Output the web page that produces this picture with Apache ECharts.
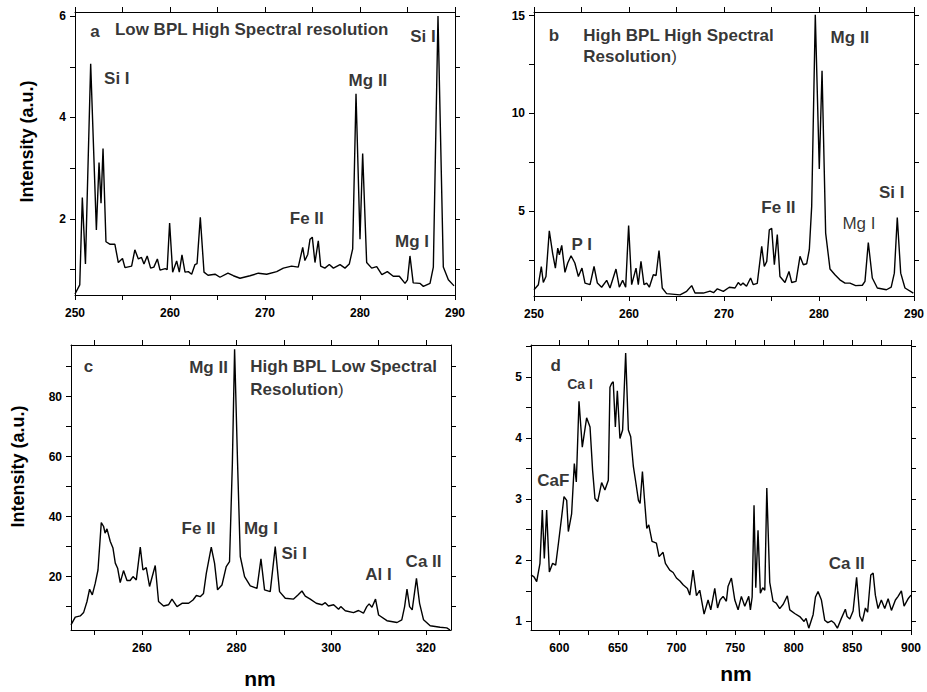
<!DOCTYPE html>
<html><head><meta charset="utf-8">
<script src="https://cdn.jsdelivr.net/npm/echarts@6/dist/echarts.min.js"></script>
<style>html,body{margin:0;padding:0;background:#fff}#c{width:927px;height:692px}</style>
</head><body><div id="c"></div><script>
// ---------- Panel a: Low BPL, high spectral resolution ----------
const aNm  = [250.0,250.5,250.77,251.1,251.65,252.25,252.53,252.74,252.95,253.26,253.7,254.2,254.56,255.0,255.26,255.96,256.3,256.67,257.0,257.26,257.6,257.96,258.3,258.67,258.95,259.5,259.7,259.96,260.28,260.7,260.98,261.26,261.58,261.93,262.28,262.63,262.85,263.19,263.58,264.0,264.74,265.26,266.1,266.67,267.37,268.42,269.3,270.18,271.23,271.93,272.8,273.5,273.97,274.2,274.5,274.74,274.98,275.26,275.61,275.86,276.3,276.77,277.2,277.9,278.42,278.87,279.23,279.58,280.0,280.28,280.7,281.23,281.76,282.3,282.88,283.5,284.14,284.74,285.0,285.26,285.6,286.3,286.67,287.37,287.72,288.21,288.77,289.3,289.9];
const aInt = [0.52,0.70,2.42,1.11,5.06,1.78,3.11,2.31,3.39,1.55,1.50,1.50,1.14,1.22,1.04,1.07,1.39,1.21,1.24,1.11,1.27,1.03,1.05,1.21,0.99,1.02,1.00,1.92,0.95,1.17,0.95,1.29,0.95,0.96,0.91,1.10,1.12,2.03,0.95,0.89,0.91,0.85,0.93,0.88,0.83,0.88,0.93,0.91,0.96,1.03,1.07,1.05,1.44,1.18,1.30,1.60,1.64,1.14,1.57,1.07,1.03,1.10,1.03,1.10,1.03,1.11,1.41,4.47,1.60,3.29,1.14,1.03,1.06,0.90,0.96,0.87,0.87,0.73,0.80,1.27,0.74,0.73,0.67,0.73,1.05,6.00,1.05,0.80,0.68];
const aXTicks = [250,255,260,265,270,275,280,285,290];
const aXLabels = [250,260,270,280,290];
const aYTicks = [1,2,3,4,5,6];
const aYLabels = [2,4,6];

// ---------- Panel b: High BPL, high spectral resolution ----------
const bNm  = [250.0,250.46,250.77,250.98,251.26,251.61,251.97,252.25,252.5,252.67,252.92,253.26,253.55,253.9,254.3,254.67,255.05,255.37,255.9,256.32,256.67,257.12,257.65,258.0,258.63,258.98,259.33,259.65,259.96,260.28,260.74,260.98,261.26,261.58,261.86,262.14,262.56,262.85,263.16,263.5,263.96,265.37,266.07,266.6,266.95,267.82,268.53,268.9,269.3,269.93,270.56,271.16,271.5,271.76,272.0,272.37,272.8,273.08,273.5,273.97,274.24,274.5,274.77,275.02,275.3,275.61,275.89,276.42,276.84,277.13,277.58,278.0,278.35,278.7,278.98,279.23,279.61,280.03,280.32,280.7,281.16,281.68,282.2,282.74,283.26,283.86,284.56,284.84,285.19,285.61,286.14,287.1,287.6,287.93,288.24,288.6,289.05,289.93];
const bInt = [0.97,1.23,2.16,1.34,1.65,3.99,2.81,2.08,3.10,2.76,3.24,1.86,2.34,2.71,2.34,1.65,2.08,1.31,1.23,2.16,1.31,1.10,1.45,1.06,2.03,1.10,1.45,1.10,4.26,1.23,2.08,1.23,2.42,1.23,1.31,1.10,1.74,1.70,2.98,1.06,0.77,0.71,0.89,1.18,0.80,0.80,0.90,0.82,1.02,0.89,1.10,1.06,1.34,1.20,1.31,1.15,1.57,1.23,1.30,3.19,2.16,2.42,4.04,4.11,2.25,3.79,1.65,1.34,1.91,1.34,1.40,2.68,2.25,2.30,3.02,5.24,15.05,7.15,12.18,3.87,2.03,1.74,1.48,1.31,1.31,1.18,1.20,1.40,3.39,1.57,1.06,0.97,1.10,1.82,4.67,1.82,1.06,0.80];
const bXTicks = [250,255,260,265,270,275,280,285,290];
const bXLabels = [250,260,270,280,290];
const bYTicks = [2.5,5,7.5,10,12.5,15];
const bYLabels = [5,10,15];

// ---------- Panel c: High BPL, low spectral resolution ----------
const cNm  = [245.0,245.9,246.96,247.66,248.38,248.93,249.5,250.13,250.7,251.4,251.89,252.2,252.6,253.3,253.87,254.36,254.85,255.4,256.1,256.83,257.5,258.1,258.8,259.64,260.2,260.9,261.6,262.8,263.5,264.56,265.6,266.34,267.4,268.45,269.85,270.78,271.5,272.3,273.0,273.59,274.64,275.34,275.97,276.9,277.8,278.5,279.1,279.57,280.2,280.77,281.68,282.88,284.3,285.14,285.9,287.1,288.16,289.07,290.28,292.04,292.96,293.8,294.5,295.56,296.83,298.03,298.73,299.4,300.5,301.54,302.0,302.96,304.7,305.76,306.8,307.5,308.0,308.6,309.35,310.0,311.76,313.9,314.9,315.5,316.0,316.55,317.1,318.0,318.66,319.5,320.9,323.0,324.4,325.1];
const cInt = [3.9,6.5,6.9,8.0,11.7,15.8,13.9,17.8,22.2,38.0,36.7,34.5,35.9,31.7,29.5,24.5,22.8,18.0,22.0,18.7,18.7,20.0,18.9,29.8,22.2,23.0,16.7,23.7,11.7,10.2,10.6,12.5,10.0,11.1,11.1,12.2,13.7,13.3,14.4,21.1,29.8,24.4,15.6,17.2,23.3,25.0,57.8,95.8,57.8,26.7,20.0,16.9,16.1,25.9,15.6,15.0,30.0,15.0,12.8,12.5,13.9,15.2,13.5,12.5,11.1,10.6,11.3,10.2,10.6,9.1,10.0,8.6,8.0,8.7,7.8,10.0,10.9,9.8,12.5,7.2,5.3,4.7,5.6,10.0,15.8,10.0,8.9,19.4,11.1,5.6,3.6,3.1,2.9,2.2];
const cXTicks = [250,260,270,280,290,300,310,320];
const cXLabels = [260,280,300,320];
const cYTicks = [10,20,30,40,50,60,70,80,90];
const cYLabels = [20,40,60,80];

// ---------- Panel d: visible / near-IR range ----------
const dNm  = [575.9,578.4,580.7,583.5,585.5,587.2,589.2,591.5,594.3,596.9,599.2,602.0,604.0,606.3,607.7,610.5,612.8,614.5,616.8,619.6,623.3,626.2,628.4,630.4,632.7,636.1,638.9,641.8,643.2,644.6,646.0,647.8,649.5,651.7,654.0,656.6,658.9,660.9,663.2,665.2,667.5,668.9,670.9,672.6,674.6,676.3,679.1,682.8,685.1,688.5,690.5,694.2,697.1,699.9,702.9,705.6,709.3,711.3,714.1,717.0,719.8,723.5,726.9,729.2,732.6,735.0,737.1,739.7,742.5,743.9,746.8,749.7,752.5,755.3,758.2,761.6,763.0,764.5,766.1,767.6,769.5,771.5,773.5,775.3,777.0,779.5,782.3,785.0,788.0,791.0,794.5,796.6,800.8,805.1,808.8,810.5,812.8,816.5,818.5,820.7,823.6,826.4,829.0,832.1,834.7,837.2,840.6,844.0,845.5,847.8,850.6,853.6,856.3,858.5,861.1,863.0,865.7,867.7,869.6,871.9,874.7,877.6,880.5,883.3,886.7,889.0,891.8,894.1,897.5,900.0];
const dInt = [1.76,1.73,1.65,1.95,2.82,2.03,2.82,1.81,1.95,1.92,2.27,2.71,3.04,2.98,2.47,2.76,3.58,3.28,4.60,3.85,4.33,4.18,3.47,3.01,2.96,3.27,3.15,3.31,4.83,4.89,4.92,4.18,4.77,3.99,4.13,5.39,4.13,4.02,3.53,3.28,2.98,2.93,3.45,3.01,2.52,2.58,2.31,2.28,2.06,2.13,1.95,1.84,1.80,1.71,1.66,1.60,1.54,1.43,1.84,1.42,1.51,1.12,1.35,1.19,1.54,1.22,1.35,1.41,1.33,1.57,1.71,1.35,1.19,1.41,1.25,1.41,1.19,1.40,2.90,1.55,2.49,1.46,1.55,1.51,3.18,1.64,1.33,1.30,1.21,1.28,1.42,1.19,1.13,1.08,1.00,1.05,0.89,1.11,1.40,1.49,1.35,1.02,0.98,1.01,0.97,0.89,1.05,1.20,1.08,1.04,1.17,1.72,1.09,1.00,1.22,1.15,1.76,1.79,1.43,1.21,1.35,1.21,1.37,1.18,1.35,1.41,1.50,1.25,1.37,1.43];
const dXTicks = [600,625,650,675,700,725,750,775,800,825,850,875,900];
const dXLabels = [600,650,700,750,800,850,900];
const dYTicks = [1,1.5,2,2.5,3,3.5,4,4.5,5,5.5];
const dYLabels = [1,2,3,4,5];

// ---------- Annotations (data coordinates, text) ----------
const aNotes = [[252.1,5.69,'a'],[254.2,5.73,'Low BPL High Spectral resolution','left'],[254.4,4.76,'Si I'],[280.84,4.73,'Mg II'],[274.4,2.01,'Fe II'],[285.47,1.56,'Mg I'],[286.63,5.59,'Si I']];
const bNotes = [[252.1,13.98,'b'],[255.19,13.98,'High BPL High Spectral','left'],[255.19,12.89,'Resolution{n|)}','left'],[283.26,13.86,'Mg II'],[275.72,5.2,'Fe II'],[284.21,4.35,'Mg I','center','normal'],[287.65,5.97,'Si I'],[255.02,3.27,'P I']];
const cNotes = [[248.72,90,'c'],[274.07,89.67,'Mg II'],[282.88,90,'High BPL Low Spectral','left'],[282.88,82.23,'Resolution{n|)}','left'],[271.96,35.9,'Fe II'],[285.14,35.9,'Mg I'],[292.18,27.57,'Si I'],[309.99,20.8,'Al I'],[319.5,25,'Ca II']];
const dNotes = [[596.9,5.19,'d'],[617.7,4.88,'Ca I','center','bold',14],[594.9,3.31,'CaF'],[845.2,1.94,'Ca II']];

const FONT = '"Liberation Sans", Arial, Helvetica, sans-serif';

const panels = [
  {grid:{left:75,top:12,width:380,height:283}, xr:[250,290], yr:[0.5,6.08], nm:aNm, it:aInt, xt:aXTicks, xl:aXLabels, yt:aYTicks, yl:aYLabels, notes:aNotes},
  {grid:{left:534,top:12,width:380,height:284}, xr:[250,290], yr:[0.65,15.19], nm:bNm, it:bInt, xt:bXTicks, xl:bXLabels, yt:bYTicks, yl:bYLabels, notes:bNotes},
  {grid:{left:71,top:345,width:380,height:285}, xr:[245,325.3], yr:[2.2,97.2], nm:cNm, it:cInt, xt:cXTicks, xl:cXLabels, yt:cYTicks, yl:cYLabels, notes:cNotes},
  {grid:{left:531,top:345,width:380,height:285}, xr:[575.85,900], yr:[0.86,5.52], nm:dNm, it:dInt, xt:dXTicks, xl:dXLabels, yt:dYTicks, yl:dYLabels, notes:dNotes}
];

function axis(kind, gi, pos, range, ticks, labels){
  return {
    type:'value', gridIndex:gi, position:pos, min:range[0], max:range[1],
    axisLine:{show:true, onZero:false, lineStyle:{color:'#000', width:1}},
    axisTick:{show:true, inside:false, length:5, customValues:ticks, lineStyle:{color:'#000', width:1}},
    axisLabel:{show:!!labels, customValues:labels || [], color:'#000', fontFamily:FONT, fontWeight:'bold', fontSize:12, margin:kind==='x'?12:9},
    splitLine:{show:false}, minorTick:{show:false}
  };
}

const grids = [], xAxes = [], yAxes = [], series = [];
panels.forEach((p, i) => {
  grids.push(Object.assign({containLabel:false, outerBoundsMode:'none'}, p.grid));
  xAxes.push(axis('x', i, 'bottom', p.xr, p.xt, p.xl));
  xAxes.push(axis('x', i, 'top', p.xr, p.xt, null));
  yAxes.push(axis('y', i, 'left', p.yr, p.yt, p.yl));
  yAxes.push(axis('y', i, 'right', p.yr, p.yt, null));
  series.push({
    type:'line', xAxisIndex:2*i, yAxisIndex:2*i, showSymbol:false, symbol:'none', silent:true,
    lineStyle:{color:'#000', width:1.4}, data:p.nm.map((x, k) => [x, p.it[k]]), animation:false
  });
  series.push({
    type:'scatter', xAxisIndex:2*i, yAxisIndex:2*i, symbolSize:1, silent:true, z:10, animation:false,
    itemStyle:{color:'rgba(0,0,0,0)'},
    data:p.notes.map(n => ({
      value:[n[0], n[1]],
      label:{show:true, formatter:n[2], position:'inside', align:n[3] || 'center', verticalAlign:'middle',
        color:'#000', fontFamily:FONT, fontWeight:n[4] || 'bold', fontSize:n[5] || 17,
        rich:{n:{fontFamily:FONT, fontWeight:'normal', fontSize:17, color:'#000'}}}
    }))
  });
});

const chart = echarts.init(document.getElementById('c'), null, {renderer:'svg'});
chart.setOption({
  animation:false,
  backgroundColor:'#fff',
  grid:grids, xAxis:xAxes, yAxis:yAxes, series:series,
  graphic:[
    {type:'text', x:27, y:141.5, rotation:Math.PI/2, style:{text:'Intensity (a.u.)', align:'center', verticalAlign:'middle', font:'bold 18px ' + FONT, fill:'#000'}},
    {type:'text', x:18, y:466.5, rotation:Math.PI/2, style:{text:'Intensity (a.u.)', align:'center', verticalAlign:'middle', font:'bold 18px ' + FONT, fill:'#000'}},
    {type:'text', x:260, y:678, style:{text:'nm', align:'center', verticalAlign:'middle', font:'bold 21px ' + FONT, fill:'#000'}},
    {type:'text', x:736, y:673, style:{text:'nm', align:'center', verticalAlign:'middle', font:'bold 21px ' + FONT, fill:'#000'}}
  ]
});
</script></body></html>
